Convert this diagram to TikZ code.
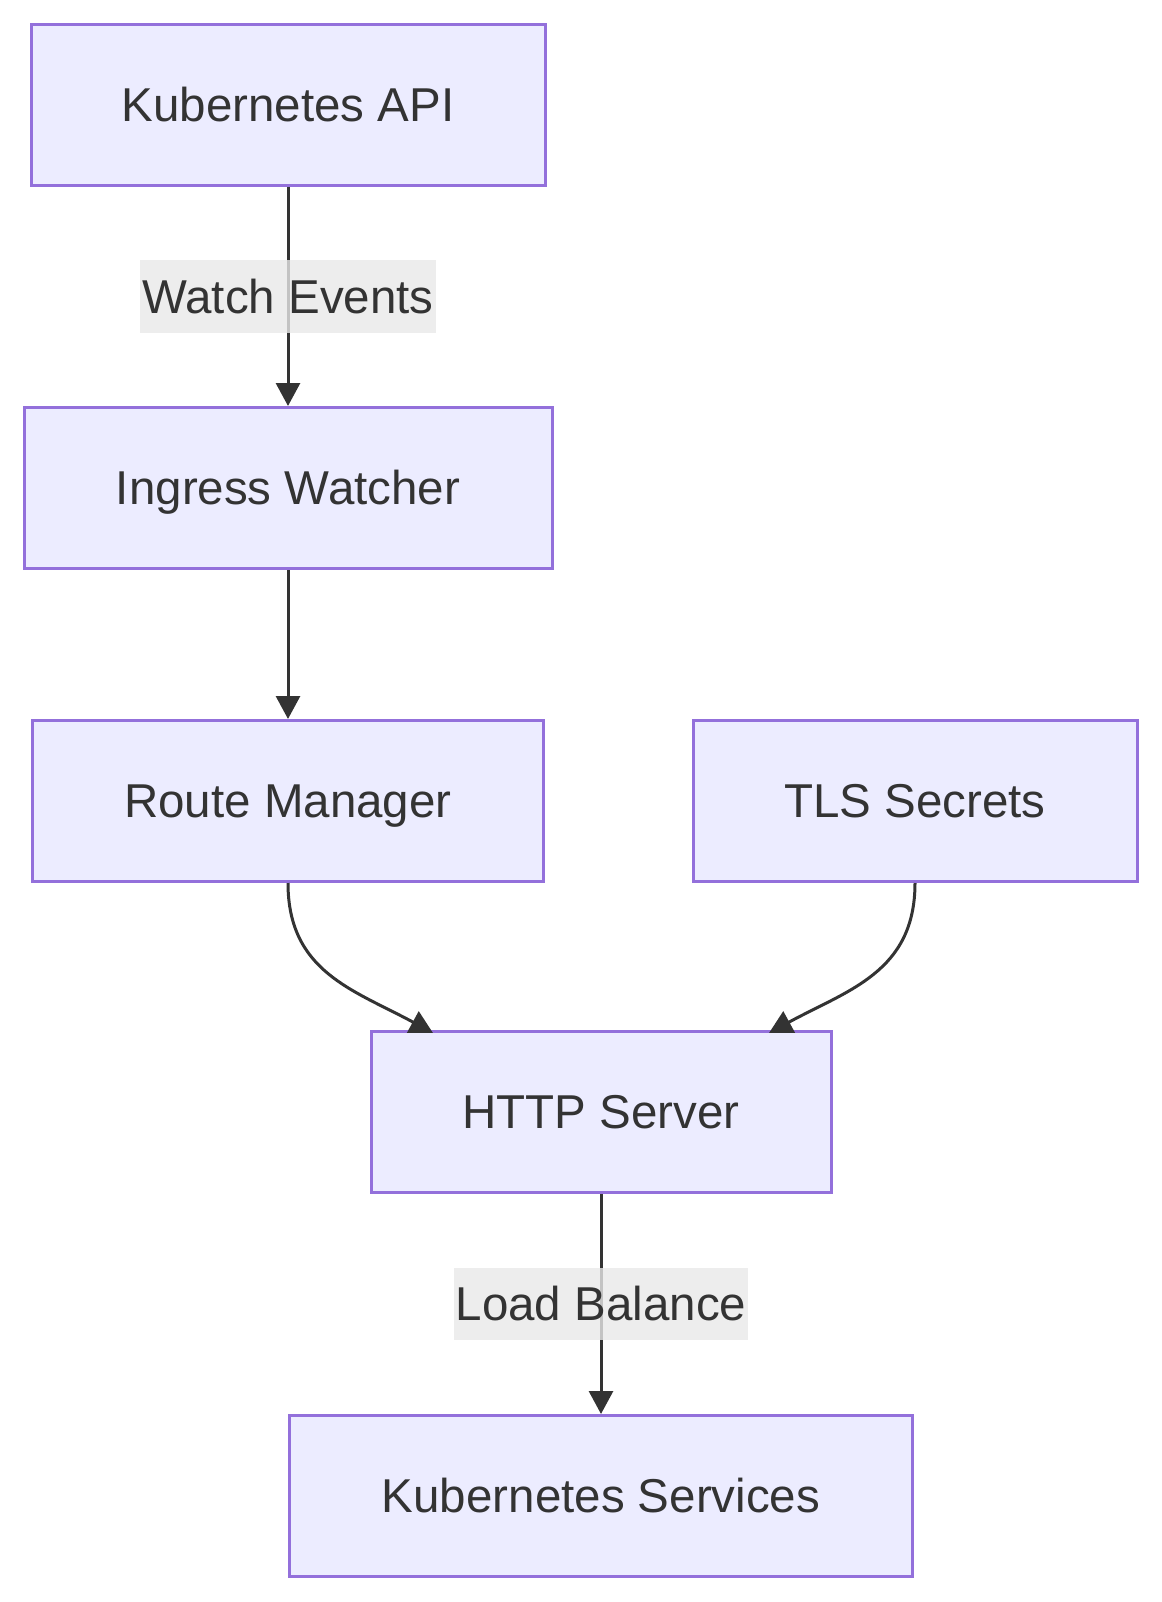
\documentclass[tikz,border=0pt]{standalone}
\usepackage{fontspec}
\setmainfont{Liberation Sans}
\usetikzlibrary{arrows.meta}

\definecolor{boxfill}{HTML}{ECECFF}
\definecolor{boxline}{HTML}{9370DB}
\definecolor{ink}{HTML}{333333}
\definecolor{lblfill}{HTML}{E8E8E8}

\tikzset{
  box/.style={draw=boxline, fill=boxfill, line width=3pt, text=ink,
    minimum height=161pt, inner sep=0pt, text height=33pt, text depth=0pt,
    font=\fontsize{47.5}{57}\selectfont},
  flow/.style={draw=ink, line width=3pt, -{Triangle[length=23pt,width=24pt]}},
  lbl/.style={fill=lblfill, fill opacity=0.8, text opacity=1, text=ink,
    minimum height=72pt, inner xsep=2pt, inner ysep=0pt,
    text height=33pt, text depth=0pt,
    font=\fontsize{47.5}{57}\selectfont}
}

\begin{document}
\begin{tikzpicture}[x=1pt, y=-1pt]

\useasboundingbox (0,0) rectangle (1161,1602);

%Nodes
\node[box, minimum width=514pt] (api) at (288,105) {Kubernetes API};
\node[box, minimum width=528pt] (watcher) at (288,488) {Ingress Watcher};
\node[box, minimum width=511pt] (routes) at (288,801) {Route Manager};
\node[box, minimum width=444pt] (tls) at (915,801) {TLS Secrets};
\node[box, minimum width=460pt] (http) at (601,1112) {HTTP Server};
\node[box, minimum width=623pt] (services) at (601,1496) {Kubernetes Services};

%Edges
\draw[flow] (api) -- (watcher)
  node[lbl, pos=0.5] (watchlbl) {Watch Events};
\draw[flow] (watcher) -- (routes);

\path (433,1033) coordinate (Pin);
\path (769,1033) coordinate (Qin);
\draw[flow] (routes.south) .. controls (288,972) and (354,990) .. (Pin);
\draw[flow] (tls.south) .. controls (915,972) and (848,990) .. (Qin);

\draw[flow] (http) -- (services)
  node[lbl, pos=0.5] (lblbalance) {Load Balance};

\end{tikzpicture}
\end{document}
